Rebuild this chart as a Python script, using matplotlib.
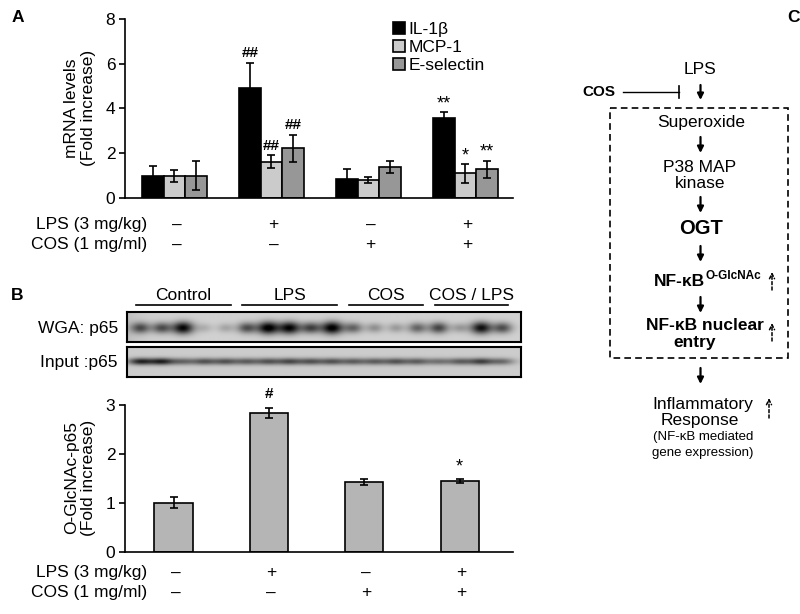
import numpy as np
import matplotlib
matplotlib.use('Agg')
import matplotlib.pyplot as plt
from matplotlib.patches import Rectangle
from matplotlib import transforms

plt.rcParams['font.family'] = ['Liberation Sans', 'DejaVu Sans']
plt.rcParams['font.size'] = 12.5

# --- data -------------------------------------------------------------
groups = ['Control', 'LPS', 'COS', 'COS / LPS']
lps_signs = ['–', '+', '–', '+']
cos_signs = ['–', '–', '+', '+']

genes = ['IL-1β', 'MCP-1', 'E-selectin']
il1b_mean = [1.0, 4.93, 0.87, 3.57]
il1b_err = [0.45, 1.10, 0.43, 0.27]
mcp1_mean = [1.0, 1.62, 0.82, 1.10]
mcp1_err = [0.27, 0.28, 0.13, 0.42]
esel_mean = [1.0, 2.23, 1.38, 1.28]
esel_err = [0.65, 0.60, 0.27, 0.39]
il1b_marks = ['', '##', '', '**']
mcp1_marks = ['', '##', '', '*']
esel_marks = ['', '##', '', '**']

ogl_mean = [1.0, 2.84, 1.42, 1.44]
ogl_err = [0.11, 0.10, 0.06, 0.04]
ogl_marks = ['', '#', '', '*']

# western blot lanes (band darkness 0..1), 18 lanes
lanes_per_group = [5, 5, 4, 4]
wga_band = [0.6, 0.6, 0.95, 0.15, 0.2,
            0.6, 1.0, 0.95, 0.65, 1.0,
            0.5, 0.3, 0.25, 0.5,
            0.65, 0.25, 0.9, 0.6]
input_band = [0.8, 0.8, 0.45, 0.55, 0.55,
              0.5, 0.55, 0.6, 0.55, 0.55,
              0.5, 0.5, 0.55, 0.5,
              0.4, 0.5, 0.65, 0.45]

W, H = 800, 614
fig = plt.figure(figsize=(W / 100, H / 100), dpi=100)


def rect(x0, y0, x1, y1):
    return [x0 / W, 1 - y1 / H, (x1 - x0) / W, (y1 - y0) / H]


def style_axes(ax):
    for s in ['top', 'right']:
        ax.spines[s].set_visible(False)
    for s in ['left', 'bottom']:
        ax.spines[s].set_linewidth(1.2)
    ax.tick_params(axis='y', length=4, width=1.2, direction='out', pad=3)
    ax.tick_params(axis='x', length=0, labelbottom=False)


def sign_rows(ax, y1, y2):
    tr = transforms.blended_transform_factory(ax.transData, fig.transFigure)
    for i in range(len(groups)):
        ax.text(i + 0.02, 1 - y1 / H, lps_signs[i], transform=tr, ha='center', va='center')
        ax.text(i + 0.02, 1 - y2 / H, cos_signs[i], transform=tr, ha='center', va='center')
    fig.text(147 / W, 1 - y1 / H, 'LPS (3 mg/kg)', ha='right', va='center')
    fig.text(147 / W, 1 - y2 / H, 'COS (1 mg/ml)', ha='right', va='center')


def mark(ax, mk, xi, top, dy):
    if not mk:
        return
    if '#' in mk:
        ax.annotate(mk, (xi, top), xytext=(0, dy), textcoords='offset points',
                    ha='center', va='bottom', fontsize=11, fontweight='bold')
    else:
        ax.annotate(mk, (xi, top), xytext=(0, dy - 2), textcoords='offset points',
                    ha='center', va='bottom', fontsize=13)


# --- panel A ----------------------------------------------------------
ax_a = fig.add_axes(rect(125, 19, 513, 198))
x = np.arange(len(groups))
bw = 0.222
series = [(il1b_mean, il1b_err, il1b_marks, '#000000'),
          (mcp1_mean, mcp1_err, mcp1_marks, '#cbcbcb'),
          (esel_mean, esel_err, esel_marks, '#979797')]
for k, (m, e, marks, col) in enumerate(series):
    xs = x + (k - 1) * bw
    ax_a.bar(xs, m, width=bw, color=col, edgecolor='black', linewidth=1.2, label=genes[k])
    ax_a.errorbar(xs, m, yerr=e, fmt='none', ecolor='black', elinewidth=1.2, capsize=3, capthick=1.2)
    for xi, mi, ei, mk in zip(xs, m, e, marks):
        mark(ax_a, mk, xi, mi + ei, 2)
ax_a.set_xlim(-0.51, 3.49)
ax_a.set_ylim(0, 8)
ax_a.set_yticks([0, 2, 4, 6, 8])
style_axes(ax_a)
ax_a.legend(loc='upper left', bbox_to_anchor=(393 / W, 1 - 22 / H), bbox_transform=fig.transFigure,
            frameon=False, handlelength=0.7, handleheight=0.7, handletextpad=0.2,
            labelspacing=0.15, borderpad=0, borderaxespad=0)
fig.text(80 / W, 1 - 108 / H, 'mRNA levels\n(Fold increase)', rotation=90,
         ha='center', va='center', multialignment='center')
sign_rows(ax_a, 225, 245)

# --- panel B blots ----------------------------------------------------
lx0, lx1 = -0.609, 17.845
gx = np.linspace(lx0, lx1, 400)
gy = np.linspace(1, 0, 60)
X, Y = np.meshgrid(gx, gy)

img_w = np.full(X.shape, 0.82) - 0.08 * np.exp(-(X - lx0) / 0.6)
for i, b in enumerate(wga_band):
    sx = 0.26 + 0.1 * b
    sy = 0.10 + 0.05 * b
    img_w -= 0.85 * b * np.exp(-((X - i) ** 2) / (2 * sx ** 2) - ((Y - 0.47) ** 2) / (2 * sy ** 2))
img_i = np.full(X.shape, 0.80)
for i, b in enumerate(input_band):
    img_i -= 0.8 * b * np.exp(-((X - i) ** 2) / (2 * 0.42 ** 2) - ((Y - 0.5) ** 2) / (2 * 0.08 ** 2))

ax_w = fig.add_axes(rect(127, 312, 521, 342))
ax_i = fig.add_axes(rect(127, 347, 521, 377))
for axb, img in [(ax_w, img_w), (ax_i, img_i)]:
    axb.imshow(np.clip(img, 0, 1), cmap='gray', vmin=0, vmax=1, aspect='auto',
               extent=[lx0, lx1, 0, 1], interpolation='bilinear')
    axb.set_xlim(lx0, lx1)
    axb.set_ylim(0, 1)
    axb.set_xticks([])
    axb.set_yticks([])
    for s in axb.spines.values():
        s.set_linewidth(1.5)
fig.text(118 / W, 1 - 328 / H, 'WGA: p65', ha='right', va='center')
fig.text(117 / W, 1 - 362 / H, 'Input :p65', ha='right', va='center')

tr_w = transforms.blended_transform_factory(ax_w.transData, fig.transFigure)
start = 0
for g, n in zip(groups, lanes_per_group):
    a, b = start - 0.2, start + n - 1 + 0.25
    ax_w.plot([a, b], [1 - 305 / H] * 2, color='black', lw=1.2, transform=tr_w, clip_on=False)
    ax_w.text((a + b) / 2, 1 - 296 / H, g, ha='center', va='center', transform=tr_w)
    start += n

# --- panel B bars -----------------------------------------------------
ax_b = fig.add_axes(rect(125, 405, 513, 551.7))
ax_b.bar(x, ogl_mean, width=0.40, color='#b5b5b5', edgecolor='black', linewidth=1.2)
ax_b.errorbar(x, ogl_mean, yerr=ogl_err, fmt='none', ecolor='black', elinewidth=1.2, capsize=3, capthick=1.2)
for xi, mi, ei, mk in zip(x, ogl_mean, ogl_err, ogl_marks):
    mark(ax_b, mk, xi, mi + ei, 5)
ax_b.set_xlim(-0.509, 3.56)
ax_b.set_ylim(0, 3)
ax_b.set_yticks([0, 1, 2, 3])
style_axes(ax_b)
fig.text(80 / W, 1 - 478 / H, 'O-GlcNAc-p65\n(Fold increase)', rotation=90,
         ha='center', va='center', multialignment='center')
sign_rows(ax_b, 573, 593)

# --- panel C: scheme --------------------------------------------------
ax_c = fig.add_axes([0, 0, 1, 1])
ax_c.set_xlim(0, W)
ax_c.set_ylim(H, 0)
ax_c.axis('off')


def down(y0, y1, xx=700.5):
    ax_c.annotate('', xy=(xx, y1), xytext=(xx, y0),
                  arrowprops=dict(arrowstyle='-|>', color='black', lw=1.6,
                                  mutation_scale=9, shrinkA=0, shrinkB=0))


def up_dashed(xx, y0, y1):
    ax_c.annotate('', xy=(xx, y1), xytext=(xx, y0),
                  arrowprops=dict(arrowstyle='->', color='black', lw=1.1, linestyle=(0, (2, 1.5)),
                                  mutation_scale=9, shrinkA=0, shrinkB=0))


ax_c.text(700, 70, 'LPS', ha='center', va='center', fontsize=12.5)
ax_c.text(599, 92, 'COS', ha='center', va='center', fontsize=11, fontweight='bold')
ax_c.plot([623, 679], [92, 92], color='black', lw=1.0)
ax_c.plot([679, 679], [86, 98], color='black', lw=1.2)
down(85, 100)
ax_c.add_patch(Rectangle((610, 108), 178, 250, fill=False, ec='black', lw=1.2, ls=(0, (4, 2.5))))
ax_c.text(701, 123, 'Superoxide', ha='center', va='center', fontsize=12.5)
down(137, 153)
ax_c.text(700, 167, 'P38 MAP', ha='center', va='center', fontsize=12.5)
ax_c.text(700, 184, 'kinase', ha='center', va='center', fontsize=12.5)
down(197, 213)
ax_c.text(701, 229, 'OGT', ha='center', va='center', fontsize=14.5, fontweight='bold')
down(246, 262)
ax_c.text(705, 282, 'NF-κB', ha='right', va='center', fontsize=12.5, fontweight='bold')
ax_c.text(706, 276, 'O-GlcNAc', ha='left', va='center', fontsize=8.5, fontweight='bold')
up_dashed(772, 290, 272)
down(297, 313)
ax_c.text(705, 325, 'NF-κB nuclear', ha='center', va='center', fontsize=12.5, fontweight='bold')
ax_c.text(695, 343, 'entry', ha='center', va='center', fontsize=12.5, fontweight='bold')
up_dashed(772, 341, 323)
down(368, 384)
ax_c.text(703, 404, 'Inflammatory', ha='center', va='center', fontsize=12.5)
ax_c.text(700, 421, 'Response', ha='center', va='center', fontsize=12.5)
ax_c.text(703, 437, '(NF-κB mediated', ha='center', va='center', fontsize=9.5)
ax_c.text(703, 453, 'gene expression)', ha='center', va='center', fontsize=9.5)
up_dashed(769, 418, 398)

# panel letters
for lab, (px, py) in zip(['A', 'B', 'C'], [(18, 17), (17, 296), (793, 17)]):
    fig.text(px / W, 1 - py / H, lab, ha='center', va='center', fontsize=12.5, fontweight='bold')

fig.savefig('out.png', dpi=100)
